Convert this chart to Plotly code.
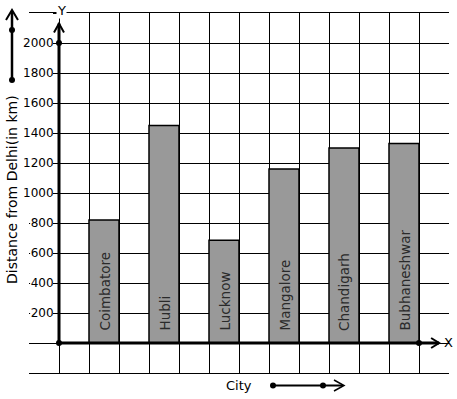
import plotly.graph_objects as go

# ---- data ----
cities = ["Coimbatore", "Hubli", "Lucknow", "Mangalore", "Chandigarh", "Bubhaneshwar"]
distances = [820, 1450, 685, 1160, 1300, 1330]
y_tick_vals = [-200, 0, 200, 400, 600, 800, 1000, 1200, 1400, 1600, 1800, 2000, 2200]
y_tick_text = ["", "", "200", "400", "600", "800", "1000", "1200", "1400", "1600", "1800", "2000", ""]
x_title = "City"
y_title = "Distance from Delhi(in km)"

W, H = 457, 399
ML, MR, MT, MB = 29, 8, 13, 26
PW, PH = W - ML - MR, H - MT - MB
FONT = "DejaVu Sans"


def px_x(p):
    return (p - ML) / PW


def px_y(p):
    return (H - MB - p) / PH


bar_x = [1.5 + 2 * i for i in range(len(cities))]

fig = go.Figure()
fig.add_trace(go.Bar(
    x=bar_x, y=distances, width=1,
    marker=dict(color="#999999", line=dict(color="black", width=1.5)),
    hoverinfo="skip", showlegend=False,
))

shapes = []
annotations = []

# white backgrounds behind y tick labels
for v, t in zip(y_tick_vals, y_tick_text):
    if t:
        wpx = len(t) * 7.63 + 1
        shapes.append(dict(type="rect", layer="between", xref="x", yref="y",
                           xsizemode="pixel", ysizemode="pixel", xanchor=0, yanchor=v,
                           x0=-5 - wpx, x1=-6, y0=-7, y1=7,
                           fillcolor="white", line=dict(width=0)))

# y axis line with arrow
shapes.append(dict(type="line", xref="x", yref="y", x0=0, x1=0, y0=0, y1=2130,
                   line=dict(color="black", width=3)))
shapes.append(dict(type="path", xref="x", yref="y", xsizemode="pixel", ysizemode="pixel",
                   xanchor=0, yanchor=2130, path="M -5,-9 L 0,0 L 5,-9",
                   line=dict(color="black", width=2)))
# x axis line with arrow
shapes.append(dict(type="line", xref="x", yref="y", x0=0, x1=12.67, y0=0, y1=0,
                   line=dict(color="black", width=3)))
shapes.append(dict(type="path", xref="x", yref="y", xsizemode="pixel", ysizemode="pixel",
                   xanchor=12.67, yanchor=0, path="M -8,-5 L 0,0 L -8,5",
                   line=dict(color="black", width=2)))
# dots on axes
for (ax, ay) in [(0, 0), (0, 2000), (12, 0)]:
    shapes.append(dict(type="circle", xref="x", yref="y", xsizemode="pixel", ysizemode="pixel",
                       xanchor=ax, yanchor=ay, x0=-3, x1=3, y0=-3, y1=3,
                       fillcolor="black", line=dict(width=0)))

# left decorative arrow (paper)
lx = px_x(12)
shapes.append(dict(type="line", xref="paper", yref="paper", x0=lx, x1=lx,
                   y0=px_y(80), y1=px_y(11), line=dict(color="black", width=2.5)))
shapes.append(dict(type="path", xref="paper", yref="paper",
                   path=f"M {px_x(6)},{px_y(20)} L {lx},{px_y(10)} L {px_x(18)},{px_y(20)}",
                   line=dict(color="black", width=2)))
for py in (30, 80):
    shapes.append(dict(type="circle", xref="paper", yref="paper",
                       x0=px_x(9), x1=px_x(15), y0=px_y(py + 3), y1=px_y(py - 3),
                       fillcolor="black", line=dict(width=0)))

# bottom decorative arrow (paper)
by = px_y(385.5)
shapes.append(dict(type="line", xref="paper", yref="paper", x0=px_x(273), x1=px_x(343),
                   y0=by, y1=by, line=dict(color="black", width=2)))
shapes.append(dict(type="path", xref="paper", yref="paper",
                   path=f"M {px_x(334)},{px_y(380)} L {px_x(344)},{by} L {px_x(334)},{px_y(391)}",
                   line=dict(color="black", width=1.5)))
for pxv in (273, 323):
    shapes.append(dict(type="circle", xref="paper", yref="paper",
                       x0=px_x(pxv - 3), x1=px_x(pxv + 3), y0=px_y(388.5), y1=px_y(382.5),
                       fillcolor="black", line=dict(width=0)))

# bar labels
for xv, c in zip(bar_x, cities):
    annotations.append(dict(x=xv, y=0, xref="x", yref="y", text=c, showarrow=False,
                            textangle=-90, xanchor="center", yanchor="bottom", yshift=10,
                            font=dict(family=FONT, size=13.5, color="#2a2a2a")))

annotations += [
    dict(x=px_x(61), y=px_y(10.5), xref="paper", yref="paper", text="Y", showarrow=False,
         xanchor="center", yanchor="middle",
         bgcolor="white", borderpad=0, font=dict(family=FONT, size=13, color="black")),
    dict(x=px_x(448), y=px_y(342.5), xref="paper", yref="paper", text="X", showarrow=False,
         xanchor="center", yanchor="middle",
         font=dict(family=FONT, size=13, color="black")),
    dict(x=px_x(238.5), y=px_y(385.5), xref="paper", yref="paper", text=x_title, showarrow=False,
         xanchor="center", yanchor="middle",
         font=dict(family=FONT, size=13, color="black")),
    dict(x=px_x(12), y=px_y(190), xref="paper", yref="paper", text=y_title, showarrow=False,
         xanchor="center", yanchor="middle",
         textangle=-90, font=dict(family=FONT, size=14, color="black")),
]

fig.update_layout(
    width=W, height=H,
    margin=dict(l=ML, r=MR, t=MT, b=MB, pad=0, autoexpand=False),
    plot_bgcolor="white", paper_bgcolor="white",
    showlegend=False,
    xaxis=dict(range=[-1, 13], tick0=0, dtick=1, showgrid=True, gridcolor="black", gridwidth=1,
               showticklabels=False, ticks="", zeroline=False, automargin=False,
               showline=True, mirror=True, linecolor="black", linewidth=1),
    yaxis=dict(range=[-200, 2200], anchor="free", position=1 / 14, automargin=False,
               tickmode="array", tickvals=y_tick_vals, ticktext=y_tick_text,
               showgrid=True, gridcolor="black", gridwidth=1,
               ticks="outside", ticklen=6, tickcolor="black", tickwidth=1,
               ticklabelstandoff=-3,
               tickfont=dict(family=FONT, size=12, color="black"),
               zeroline=False, showline=False),
    shapes=shapes,
    annotations=annotations,
)

fig.write_html("out.html", config={"displayModeBar": False},
               post_script="document.body.style.margin='0px';document.body.style.overflow='hidden';")
